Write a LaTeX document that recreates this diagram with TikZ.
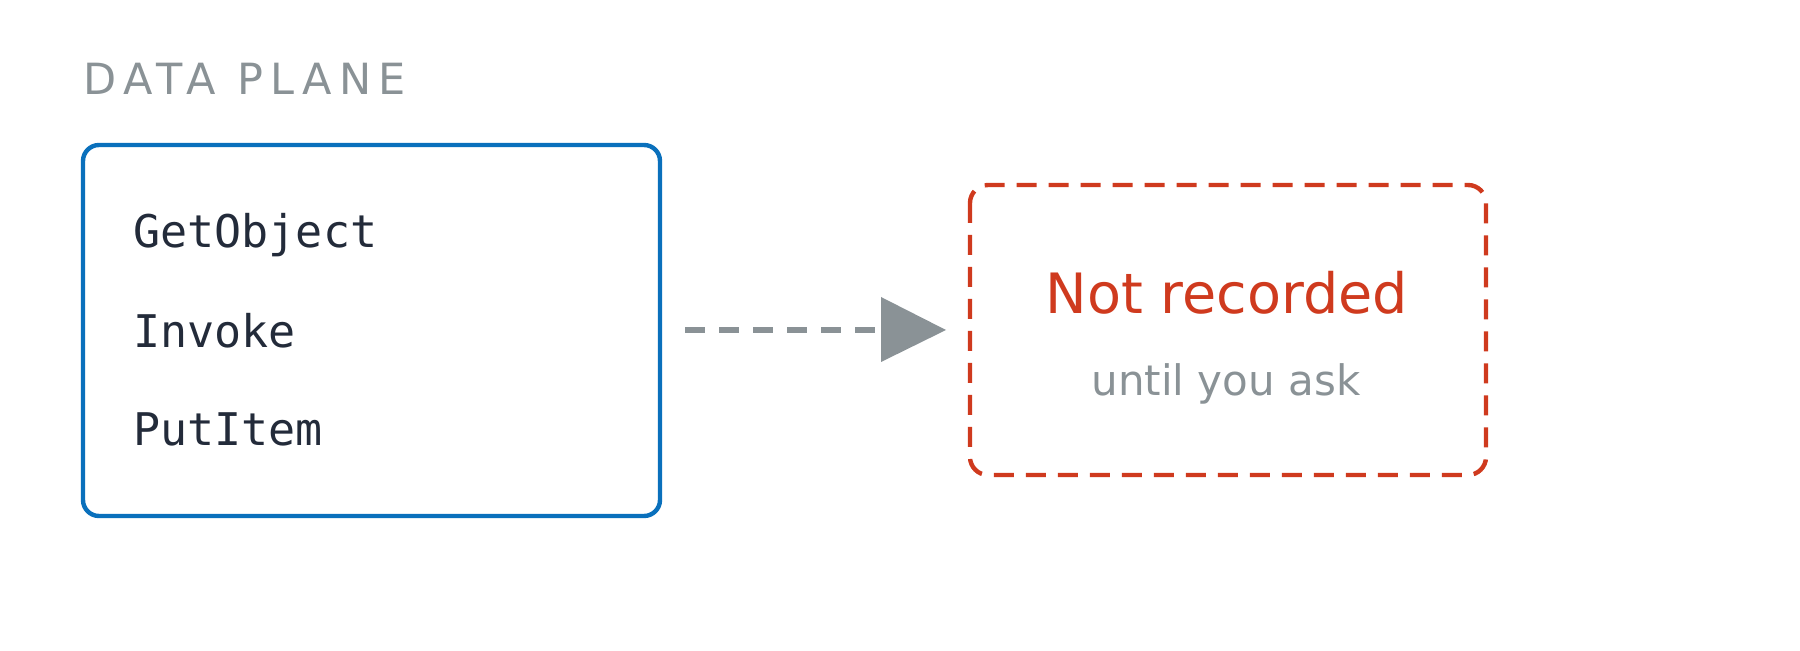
\documentclass[tikz,border=0pt]{standalone}
\usepackage{fontspec}
\setmainfont{DejaVu Sans}
\setmonofont{DejaVu Sans Mono}
\begin{document}
\begin{tikzpicture}[x=0.5pt,y=-0.5pt,
  lbl/.style={anchor=base west,inner sep=0,font=\ttfamily\fontsize{22.5}{26}\selectfont},
]
\definecolor{blu}{HTML}{0A70BC}
\definecolor{rd}{HTML}{CF3A1E}
\definecolor{gr}{HTML}{8A9296}
\definecolor{ink}{HTML}{232B3A}
\useasboundingbox (0,0) rectangle (1800,651);
\node[anchor=base west,inner sep=0,text=gr,font=\fontsize{21.5}{25}\selectfont\addfontfeature{LetterSpace=17}] (title) at (83,95) {DATA PLANE};
\draw[blu,line width=2.2pt,rounded corners=8pt] (83,145) rectangle (660,516);
\node[lbl,text=ink] (g) at (133,248) {GetObject};
\node[lbl,text=ink] (i) at (133,348) {Invoke};
\node[lbl,text=ink] (p) at (133,446) {PutItem};
\draw[rd,line width=2.2pt,rounded corners=9pt,dash pattern=on 10pt off 6pt] (970,185) rectangle (1486,475);
\node[anchor=base,inner sep=0,text=rd,font=\fontsize{27.8}{32}\selectfont] (nr) at (1227,314) {Not recorded};
\node[anchor=base,inner sep=0,text=gr,font=\fontsize{21}{25}\selectfont] (ua) at (1226,396) {until you ask};
\coordinate (a0) at (685,330);
\coordinate (a1) at (881,330);
\draw[gr,line width=3pt,dash pattern=on 10pt off 7pt] (a0) -- (a1);
\fill[gr] (881,297) -- (946,330) -- (881,362) -- cycle;
\end{tikzpicture}
\end{document}
